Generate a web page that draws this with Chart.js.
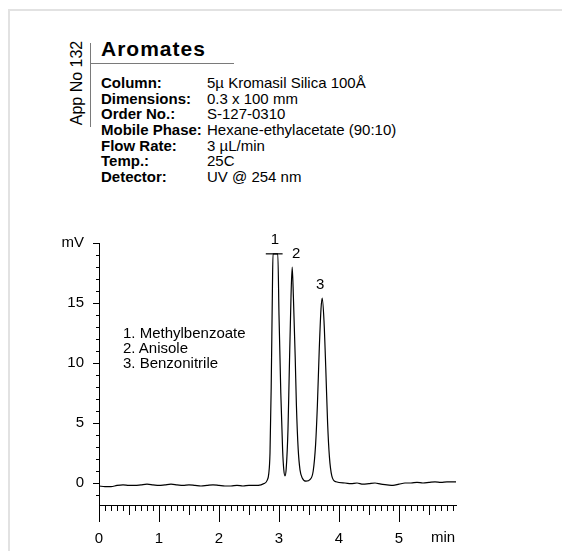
<!DOCTYPE html>
<html lang="en">
<head>
<meta charset="UTF-8">
<title>Aromates</title>
<script src="https://cdn.jsdelivr.net/npm/chart.js"></script>
<style>
    html, body { margin: 0; padding: 0; background: #fff; overflow: hidden; }
    body { width: 562px; height: 551px; position: relative; font-family: "Liberation Sans", Arial, sans-serif; color: #000; }
    .frame { position: absolute; left: 8px; top: 9px; width: 600px; height: 600px; border-left: 2px solid #e2e2e2; border-top: 2px solid #e2e2e2; }
    #chartBox { position: absolute; left: 0; top: 0; }
    .txt { position: absolute; white-space: nowrap; }
    .rule { position: absolute; background: #7a7a7a; }
    .appno { left: 32px; top: 75px; width: 90px; height: 16px; line-height: 16px; font-size: 16px; text-align: center; transform: rotate(-90deg); }
    .title { left: 101px; top: 38px; font-size: 21px; line-height: 21px; font-weight: bold; letter-spacing: 1px; }
    .info { top: 75px; font-size: 15px; line-height: 15.67px; }
    .legendTxt { left: 123px; top: 325px; font-size: 15px; line-height: 15px; }
    .unit { left: 431px; top: 529px; font-size: 15px; line-height: 16px; }
</style>
</head>
<body>
    <div class="frame"></div>

    <!-- header block -->
    <div class="txt appno">App No 132</div>
    <div class="rule" style="left:90px; top:43px; width:1px; height:84px;"></div>
    <div class="rule" style="left:90px; top:63px; width:144px; height:1px;"></div>
    <div class="txt title">Aromates</div>
    <div class="txt info" style="left:101px; font-weight:bold;">
        Column:<br>Dimensions:<br>Order No.:<br>Mobile Phase:<br>Flow Rate:<br>Temp.:<br>Detector:
    </div>
    <div class="txt info" style="left:207px;">
        5µ Kromasil Silica 100Å<br>0.3 x 100 mm<br>S-127-0310<br>Hexane-ethylacetate (90:10)<br>3 µL/min<br>25C<br>UV @ 254 nm
    </div>

    <canvas id="chartBox" width="562" height="551"></canvas>

    <div class="txt legendTxt" id="compoundList"></div>
    <div class="txt unit">min</div>

<script>
    // chromatogram trace (time in min, signal in mV)
    var time = [0, 0.1, 0.2, 0.3, 0.4, 0.5, 0.6, 0.7, 0.8, 0.9, 1.0, 1.1, 1.2, 1.3, 1.4, 1.5, 1.6, 1.7, 1.8, 1.9,
        2.0, 2.1, 2.2, 2.3, 2.4, 2.5, 2.6, 2.7, 2.75, 2.8, 2.83, 2.85, 2.87, 2.89, 2.90, 2.98, 3.0, 3.03, 3.06, 3.08,
        3.10, 3.12, 3.15, 3.17, 3.20, 3.22, 3.24, 3.27, 3.29, 3.32, 3.35, 3.39, 3.45, 3.52, 3.57, 3.61, 3.64, 3.67,
        3.70, 3.72, 3.75, 3.78, 3.81, 3.84, 3.88, 3.95, 4.1, 4.2, 4.3, 4.4, 4.5, 4.6, 4.7, 4.8, 4.9, 5.0, 5.1, 5.2,
        5.3, 5.4, 5.5, 5.6, 5.7, 5.8, 5.95];
    var signal = [-0.25, -0.3, -0.3, -0.2, -0.15, -0.2, -0.2, -0.15, -0.1, -0.15, -0.2, -0.15, -0.1, -0.15, -0.2, -0.15, -0.2, -0.25, -0.2, -0.15,
        -0.2, -0.25, -0.25, -0.2, -0.25, -0.2, -0.2, -0.15, -0.05, 0.2, 0.8, 2.5, 8, 16, 19.1, 19.1, 14, 7.5, 2.8, 1.1,
        0.6, 1.2, 4.5, 9, 15.5, 18.0, 15.5, 10.5, 6.5, 2.8, 1.1, 0.4, 0.15, 0.3, 1.0, 3.2, 6.5, 11,
        14.5, 15.4, 13.5, 9.5, 5, 2.2, 0.6, 0.1, 0, -0.05, 0, -0.1, -0.05, 0, -0.1, -0.15, -0.2, -0.1, 0, 0,
        0.05, 0, 0.05, 0.1, 0.05, 0.1, 0.1];

    // off-scale bar on top of peak 1
    var clipTimes = [2.78, 3.06];
    var clipLevel = [19.1, 19.1];

    var peakLabels = ['1', '2', '3'];
    var peakTimes = [2.93, 3.22, 3.72];
    var peakHeights = [19.1, 18.0, 15.4];
    var compounds = ['1. Methylbenzoate', '2. Anisole', '3. Benzonitrile'];

    var xTickLabels = ['0', '1', '2', '3', '4', '5'];
    var yTickLabels = ['0', '5', '10', '15', 'mV'];
    var yTickValues = [0, 5, 10, 15, 20];

    document.getElementById('compoundList').innerHTML = compounds.join('<br>');

    var fontFam = '"Liberation Sans", Arial, sans-serif';

    // small ticks of the ruler-style axes
    var minorTicks = {
        id: 'minorTicks',
        afterDraw: function (chart) {
            var ctx = chart.ctx, x = chart.scales.x, y = chart.scales.y;
            ctx.save();
            ctx.strokeStyle = '#000';
            ctx.lineWidth = 1;
            ctx.beginPath();
            for (var i = 1; i < 60; i++) {
                if (i % 10 === 0) continue;
                var px = Math.round(x.getPixelForValue(i / 10)) + 0.5;
                var len = (i % 5 === 0) ? 10 : 6;
                ctx.moveTo(px, x.top);
                ctx.lineTo(px, x.top + len);
            }
            for (var j = -1; j < 20; j++) {
                if (j % 5 === 0) continue;
                var py = Math.round(y.getPixelForValue(j)) + 0.5;
                ctx.moveTo(y.right, py);
                ctx.lineTo(y.right - 3, py);
            }
            ctx.stroke();
            ctx.restore();
        }
    };

    var peakMarks = {
        id: 'peakMarks',
        afterDatasetsDraw: function (chart) {
            var ctx = chart.ctx, x = chart.scales.x, y = chart.scales.y;
            var offs = [[0, -14], [4, -13], [-2, -13]];
            ctx.save();
            ctx.font = '15px ' + fontFam;
            ctx.fillStyle = '#000';
            ctx.textAlign = 'center';
            ctx.textBaseline = 'middle';
            for (var i = 0; i < peakLabels.length; i++) {
                ctx.fillText(peakLabels[i],
                    x.getPixelForValue(peakTimes[i]) + offs[i][0],
                    y.getPixelForValue(peakHeights[i]) + offs[i][1]);
            }
            ctx.restore();
        }
    };

    var trace = time.map(function (t, i) { return { x: t, y: signal[i] }; });
    var clipBar = clipTimes.map(function (t, i) { return { x: t, y: clipLevel[i] }; });

    new Chart(document.getElementById('chartBox').getContext('2d'), {
        type: 'line',
        data: {
            datasets: [{
                data: trace,
                borderColor: '#000',
                borderWidth: 1.2,
                pointRadius: 0,
                cubicInterpolationMode: 'monotone',
                fill: false
            }, {
                data: clipBar,
                borderColor: '#333',
                borderWidth: 1.5,
                pointRadius: 0,
                fill: false
            }]
        },
        options: {
            responsive: false,
            animation: false,
            devicePixelRatio: 1,
            layout: { padding: { left: 0, top: 243, right: 106, bottom: 0 } },
            plugins: {
                legend: { display: false },
                tooltip: { enabled: false }
            },
            scales: {
                x: {
                    type: 'linear',
                    position: 'bottom',
                    min: 0,
                    max: 5.95,
                    afterFit: function (s) { s.height = 46; },
                    border: { color: '#000', width: 1 },
                    grid: { drawOnChartArea: false, drawTicks: true, tickLength: 17, tickColor: '#000' },
                    ticks: {
                        stepSize: 1,
                        includeBounds: false,
                        autoSkip: false,
                        maxRotation: 0,
                        color: '#000',
                        padding: 8,
                        font: { size: 15, family: fontFam },
                        callback: function (v) { return xTickLabels[v] !== undefined ? xTickLabels[v] : ''; }
                    }
                },
                y: {
                    min: -1.833,
                    max: 20,
                    afterFit: function (s) { s.width = 99; },
                    border: { color: '#000', width: 1 },
                    grid: { drawOnChartArea: false, drawTicks: true, tickLength: 6, tickColor: '#000' },
                    ticks: {
                        stepSize: 5,
                        includeBounds: false,
                        color: '#000',
                        padding: 9,
                        font: { size: 15, family: fontFam },
                        callback: function (v) {
                            var k = yTickValues.indexOf(v);
                            return k >= 0 ? yTickLabels[k] : '';
                        }
                    }
                }
            }
        },
        plugins: [minorTicks, peakMarks]
    });
</script>
</body>
</html>
